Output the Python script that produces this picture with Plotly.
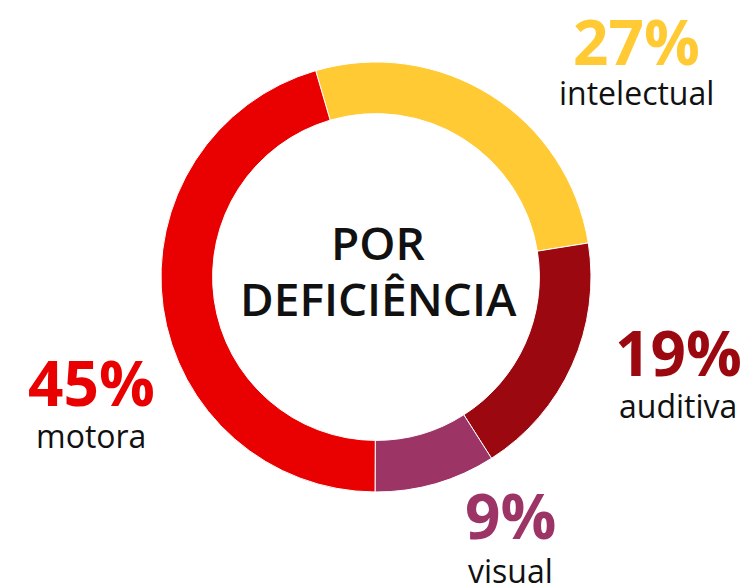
import plotly.graph_objects as go

categories = ["intelectual", "auditiva", "visual", "motora"]
values = [27.0, 18.5, 9.1, 45.4]
pct_labels = ["27%", "19%", "9%", "45%"]
colors = ["#FFCA33", "#9B080F", "#9C3566", "#E90000"]

W, H = 747, 586
cx, cy, R = 376, 277, 215

fig = go.Figure(go.Pie(
    labels=categories, values=values, hole=0.76, sort=False,
    direction="clockwise", rotation=-16.3,
    marker=dict(colors=colors, line=dict(color="white", width=1)),
    textinfo="none", hoverinfo="label+percent", showlegend=False,
    domain=dict(x=[(cx - R) / W, (cx + R) / W], y=[(H - cy - R) / H, (H - cy + R) / H]),
))

label_pos = [(636, 41, 92), (678, 352, 405), (510, 515, 570), (91, 382, 435)]
for (x, y1, y2), p, c, col in zip(label_pos, pct_labels, categories, colors):
    fig.add_annotation(x=x / W, y=1 - y1 / H, xref="paper", yref="paper", text=f"<b>{p}</b>",
                       showarrow=False, xanchor="center", yanchor="middle",
                       font=dict(family="Open Sans", size=62, color=col))
    fig.add_annotation(x=x / W, y=1 - y2 / H, xref="paper", yref="paper", text=c,
                       showarrow=False, xanchor="center", yanchor="middle",
                       font=dict(family="Open Sans", size=32, color="#111111"))

fig.add_annotation(x=378 / W, y=1 - 242 / H, xref="paper", yref="paper", text="POR",
                   showarrow=False, xanchor="center", yanchor="middle",
                   font=dict(family="Open Sans", size=46, color="#111111", weight=600))
fig.add_annotation(x=378 / W, y=1 - 298 / H, xref="paper", yref="paper", text="DEFICIÊNCIA",
                   showarrow=False, xanchor="center", yanchor="middle",
                   font=dict(family="Open Sans", size=46, color="#111111", weight=600))

fig.update_layout(width=W, height=H, margin=dict(l=0, r=0, t=0, b=0),
                  paper_bgcolor="white", plot_bgcolor="white")
fig.write_html("out.html", config={"displayModeBar": False},
               post_script="document.body.style.margin='0';")
